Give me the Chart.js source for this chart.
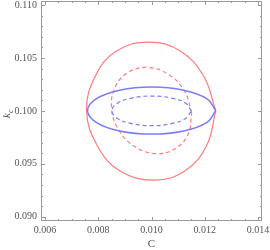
<!DOCTYPE html>
<html>
<head>
<meta charset="utf-8">
<script src="https://cdn.jsdelivr.net/npm/chart.js@4.4.0/dist/chart.umd.min.js"></script>
<style>
html, body { margin: 0; padding: 0; background: #fff; }
#wrap { width: 270px; height: 250px; }
</style>
</head>
<body>
<div id="wrap"><canvas id="chart"></canvas></div>
<script>
// contour points (C, k_c), going round each curve
const redOuterC = [0.012413, 0.011961, 0.011096, 0.009911, 0.008670, 0.007888, 0.007561, 0.007956, 0.008802, 0.010100, 0.011265, 0.012074];
const redOuterK = [0.100033, 0.103269, 0.105635, 0.106504, 0.105635, 0.103269, 0.100033, 0.096750, 0.094346, 0.093467, 0.094346, 0.096750];

const redInnerC = [0.011510, 0.011242, 0.010644, 0.009874, 0.009139, 0.008637, 0.008501, 0.008768, 0.009367, 0.010137, 0.010872, 0.011374];
const redInnerK = [0.099797, 0.101859, 0.103433, 0.104095, 0.103669, 0.102268, 0.100269, 0.098206, 0.096633, 0.095971, 0.096397, 0.097797];

const blueOuterC = [0.012413, 0.012089, 0.011209, 0.010005, 0.008802, 0.007922, 0.007598, 0.007922, 0.008802, 0.010005, 0.011209, 0.012089];
const blueOuterK = [0.100033, 0.101143, 0.101956, 0.102253, 0.101956, 0.101143, 0.100033, 0.098923, 0.098111, 0.097813, 0.098111, 0.098923];

const blueInnerC = [0.011495, 0.011296, 0.010748, 0.010002, 0.009255, 0.008708, 0.008509, 0.008708, 0.009255, 0.010002, 0.010748, 0.011296];
const blueInnerK = [0.100005, 0.100704, 0.101214, 0.101403, 0.101214, 0.100704, 0.100005, 0.099306, 0.098796, 0.098607, 0.098796, 0.099306];

const xMajor = [0.006, 0.008, 0.010, 0.012, 0.014];
const yMajor = [0.090, 0.095, 0.100, 0.105, 0.110];
const xMinor = [0.0065, 0.007, 0.0075, 0.0085, 0.009, 0.0095, 0.0105, 0.011, 0.0115, 0.0125, 0.013, 0.0135];
const yMinor = [0.091, 0.092, 0.093, 0.094, 0.096, 0.097, 0.098, 0.099, 0.101, 0.102, 0.103, 0.104, 0.106, 0.107, 0.108, 0.109];

const RED = '#ff7b7b';
const BLUE = '#7b7bff';
const GREY = '#555';

function loop(cs, ks) {
    const pts = cs.map((c, i) => ({ x: c, y: ks[i] }));
    pts.push(pts[0]);
    return pts;
}

function curve(data, color, width, dash) {
    return {
        data: data,
        showLine: true,
        borderColor: color,
        borderWidth: width,
        borderDash: dash,
        pointRadius: 0,
        tension: 0.4,
        fill: false
    };
}

// frame with inward ticks on all four sides, plus axis titles
const framePlugin = {
    id: 'frame',
    afterDraw(chart) {
        const { ctx, chartArea: a, scales: { x, y } } = chart;
        ctx.save();
        ctx.strokeStyle = '#9a9a9a';
        ctx.lineWidth = 1;
        ctx.strokeRect(a.left + 0.5, a.top + 0.5, a.right - a.left - 1, a.bottom - a.top - 1);

        ctx.beginPath();
        const xt = (v, len) => {
            const px = Math.round(x.getPixelForValue(v)) + 0.5;
            ctx.moveTo(px, a.bottom); ctx.lineTo(px, a.bottom - len);
            ctx.moveTo(px, a.top); ctx.lineTo(px, a.top + len);
        };
        const yt = (v, len) => {
            const py = Math.round(y.getPixelForValue(v)) + 0.5;
            ctx.moveTo(a.left, py); ctx.lineTo(a.left + len, py);
            ctx.moveTo(a.right, py); ctx.lineTo(a.right - len, py);
        };
        xMajor.forEach(v => xt(v, 4));
        xMinor.forEach(v => xt(v, 2));
        yMajor.forEach(v => yt(v, 4));
        yMinor.forEach(v => yt(v, 2));
        ctx.stroke();

        ctx.fillStyle = GREY;
        ctx.font = '11px "Liberation Serif"';
        ctx.textAlign = 'center';
        ctx.textBaseline = 'alphabetic';
        ctx.fillText('C', (a.left + a.right) / 2, 247);

        ctx.translate(10, 118);
        ctx.rotate(-Math.PI / 2);
        ctx.textAlign = 'left';
        ctx.font = 'italic 11px "Liberation Serif"';
        ctx.fillText('k', 0, 0);
        const kw = ctx.measureText('k').width;
        ctx.font = 'italic 8px "Liberation Serif"';
        ctx.fillText('c', kw, 2.5);
        ctx.restore();
    }
};

const ctx = document.getElementById('chart').getContext('2d');
new Chart(ctx, {
    type: 'scatter',
    data: {
        datasets: [
            curve(loop(blueOuterC, blueOuterK), BLUE, 1.5, []),
            curve(loop(blueInnerC, blueInnerK), BLUE, 1.2, [4, 3]),
            curve(loop(redInnerC, redInnerK), RED, 1.2, [4, 3]),
            curve(loop(redOuterC, redOuterK), RED, 1.2, [])
        ]
    },
    options: {
        responsive: true,
        maintainAspectRatio: false,
        animation: false,
        layout: { padding: { top: 1, right: 8, left: 0, bottom: 0 } },
        plugins: { legend: { display: false }, tooltip: { enabled: false } },
        scales: {
            x: {
                type: 'linear',
                min: 0.00585,
                max: 0.01415,
                grid: { display: false, drawTicks: false },
                border: { display: false },
                afterBuildTicks: axis => { axis.ticks = xMajor.map(v => ({ value: v })); },
                afterFit: axis => {
                    axis.height = 29;
                    axis.paddingLeft = 0;
                    axis.paddingRight = 0;
                },
                ticks: {
                    padding: 3,
                    color: GREY,
                    font: { family: '"Liberation Serif"', size: 10 },
                    maxRotation: 0,
                    callback: v => v.toFixed(3)
                }
            },
            y: {
                type: 'linear',
                min: 0.08960,
                max: 0.11038,
                grid: { display: false, drawTicks: false },
                border: { display: false },
                afterBuildTicks: axis => { axis.ticks = yMajor.map(v => ({ value: v })); },
                afterFit: axis => {
                    axis.width = 41;
                    axis.paddingTop = 0;
                    axis.paddingBottom = 0;
                },
                ticks: {
                    padding: 4,
                    color: GREY,
                    font: { family: '"Liberation Serif"', size: 10 },
                    callback: v => v.toFixed(3)
                }
            }
        }
    },
    plugins: [framePlugin]
});
</script>
</body>
</html>
